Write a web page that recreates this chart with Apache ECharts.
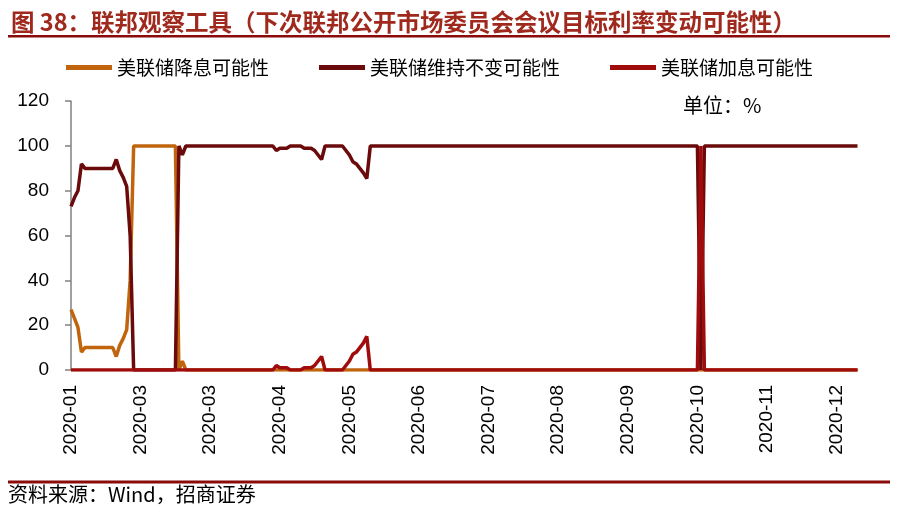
<!DOCTYPE html>
<html>
<head>
<meta charset="utf-8">
<script src="https://cdn.jsdelivr.net/npm/echarts@6/dist/echarts.min.js"></script>
<style>
html,body{margin:0;padding:0;background:#fff;}
#c{width:900px;height:512px;}
</style>
</head>
<body>
<div id="c"></div>
<script>
// Tick labels shown every 20 points along the category axis
var tickLabels = ['2020-01','2020-03','2020-03','2020-04','2020-05','2020-06','2020-07','2020-08','2020-09','2020-10','2020-11','2020-12'];
var seriesNames = ['美联储降息可能性','美联储维持不变可能性','美联储加息可能性'];

// 美联储降息可能性 (%)
var cutProb = [
27,23,19,8,10,10,10,10,10,10,10,10,10,6,11,14,18,40,100,100,
100,100,100,100,100,100,100,100,100,100,100,0,4,0,0,0,0,0,0,0,
0,0,0,0,0,0,0,0,0,0,0,0,0,0,0,0,0,0,0,0,
0,0,0,0,0,0,0,0,0,0,0,0,0,0,0,0,0,0,0,0,
0,0,0,0,0,0,0,0,0,0,0,0,0,0,0,0,0,0,0,0,
0,0,0,0,0,0,0,0,0,0,0,0,0,0,0,0,0,0,0,0,
0,0,0,0,0,0,0,0,0,0,0,0,0,0,0,0,0,0,0,0,
0,0,0,0,0,0,0,0,0,0,0,0,0,0,0,0,0,0,0,0,
0,0,0,0,0,0,0,0,0,0,0,0,0,0,0,0,0,0,0,0,
0,0,0,0,0,0,0,0,0,0,0,0,0,0,0,0,0,0,0,0,
0,0,0,0,0,0,0,0,0,0,0,0,0,0,0,0,0,0,0,0,
0,0,0,0,0,0,0
];

// 美联储维持不变可能性 (%)
var holdProb = [
73,77,80,92,90,90,90,90,90,90,90,90,90,94,89,86,82,60,0,0,
0,0,0,0,0,0,0,0,0,0,0,100,96,100,100,100,100,100,100,100,
100,100,100,100,100,100,100,100,100,100,100,100,100,100,100,100,100,100,100,98,
99,99,99,100,100,100,100,99,99,99,98,96,94,100,100,100,100,100,100,98,
96,93,92,90,88,85.5,100,100,100,100,100,100,100,100,100,100,100,100,100,100,
100,100,100,100,100,100,100,100,100,100,100,100,100,100,100,100,100,100,100,100,
100,100,100,100,100,100,100,100,100,100,100,100,100,100,100,100,100,100,100,100,
100,100,100,100,100,100,100,100,100,100,100,100,100,100,100,100,100,100,100,100,
100,100,100,100,100,100,100,100,100,100,100,100,100,100,100,100,100,100,100,100,
100,0,100,100,100,100,100,100,100,100,100,100,100,100,100,100,100,100,100,100,
100,100,100,100,100,100,100,100,100,100,100,100,100,100,100,100,100,100,100,100,
100,100,100,100,100,100,100
];

// 美联储加息可能性 (%)
var hikeProb = [
0,0,0,0,0,0,0,0,0,0,0,0,0,0,0,0,0,0,0,0,
0,0,0,0,0,0,0,0,0,0,0,0,0,0,0,0,0,0,0,0,
0,0,0,0,0,0,0,0,0,0,0,0,0,0,0,0,0,0,0,2,
1,1,1,0,0,0,0,1,1,1,2,4,6,0,0,0,0,0,0,2,
4,7,8,10,12,15,0,0,0,0,0,0,0,0,0,0,0,0,0,0,
0,0,0,0,0,0,0,0,0,0,0,0,0,0,0,0,0,0,0,0,
0,0,0,0,0,0,0,0,0,0,0,0,0,0,0,0,0,0,0,0,
0,0,0,0,0,0,0,0,0,0,0,0,0,0,0,0,0,0,0,0,
0,0,0,0,0,0,0,0,0,0,0,0,0,0,0,0,0,0,0,0,
0,100,0,0,0,0,0,0,0,0,0,0,0,0,0,0,0,0,0,0,
0,0,0,0,0,0,0,0,0,0,0,0,0,0,0,0,0,0,0,0,
0,0,0,0,0,0,0
];

var categories = cutProb.map(function(_, i){ return String(i); });
var colors = ['#C0650E','#6B0A0A','#A00C0C'];
var cjk = '"Noto Sans CJK SC", sans-serif';
var latin = '"Liberation Sans", Arial, sans-serif';

var chart = echarts.init(document.getElementById('c'), null, {renderer:'canvas'});
var mk = function(name, data, color){
  return {name:name, type:'line', data:data, showSymbol:false, symbol:'none',
    lineStyle:{color:color, width:3.5}, itemStyle:{color:color}};
};
chart.setOption({
  animation:false,
  backgroundColor:'#ffffff',
  title:{
    text:'图 38：联邦观察工具（下次联邦公开市场委员会会议目标利率变动可能性）',
    left:6, top:5,
    textStyle:{fontFamily:cjk, fontSize:23.5, fontWeight:'bold', color:'#A0291E'}
  },
  legend:{
    left:61, top:53, itemWidth:46, itemHeight:5, itemGap:50,
    icon:'rect',
    textStyle:{fontFamily:cjk, fontSize:19, color:'#000'},
    data:seriesNames
  },
  grid:{left:71, right:42.5, top:101.2, bottom:142, containLabel:false},
  xAxis:{
    type:'category', data:categories, boundaryGap:false,
    axisLine:{show:true, lineStyle:{color:'#808080', width:1.5}},
    axisTick:{show:false},
    axisLabel:{interval:19, rotate:90, margin:15, color:'#000', fontFamily:latin, fontSize:19,
      formatter:function(v, idx){ return tickLabels[Math.round(idx/20)] || ''; }},
    splitLine:{show:false}
  },
  yAxis:{
    type:'value', min:0, max:120, interval:20,
    axisLine:{show:true, lineStyle:{color:'#808080', width:1.5}},
    axisTick:{show:true, inside:false, length:6, lineStyle:{color:'#808080', width:1.5}},
    axisLabel:{color:'#000', fontFamily:latin, fontSize:19, margin:22},
    splitLine:{show:false}
  },
  graphic:[
    {type:'rect', shape:{x:8, y:35, width:882, height:2.5}, style:{fill:'#8B0A0A'}},
    {type:'rect', shape:{x:8, y:480.5, width:882, height:3}, style:{fill:'#8B0A0A'}},
    {type:'text', left:683, top:95, style:{text:'单位：%', font:'20px "Noto Sans CJK SC", sans-serif', fill:'#000'}},
    {type:'text', left:8, top:484, style:{text:'资料来源：Wind，招商证券', font:'20px "Noto Sans CJK SC", sans-serif', fill:'#000'}}
  ],
  series:[
    mk(seriesNames[0], cutProb, colors[0]),
    mk(seriesNames[1], holdProb, colors[1]),
    mk(seriesNames[2], hikeProb, colors[2])
  ]
});
</script>
</body>
</html>
